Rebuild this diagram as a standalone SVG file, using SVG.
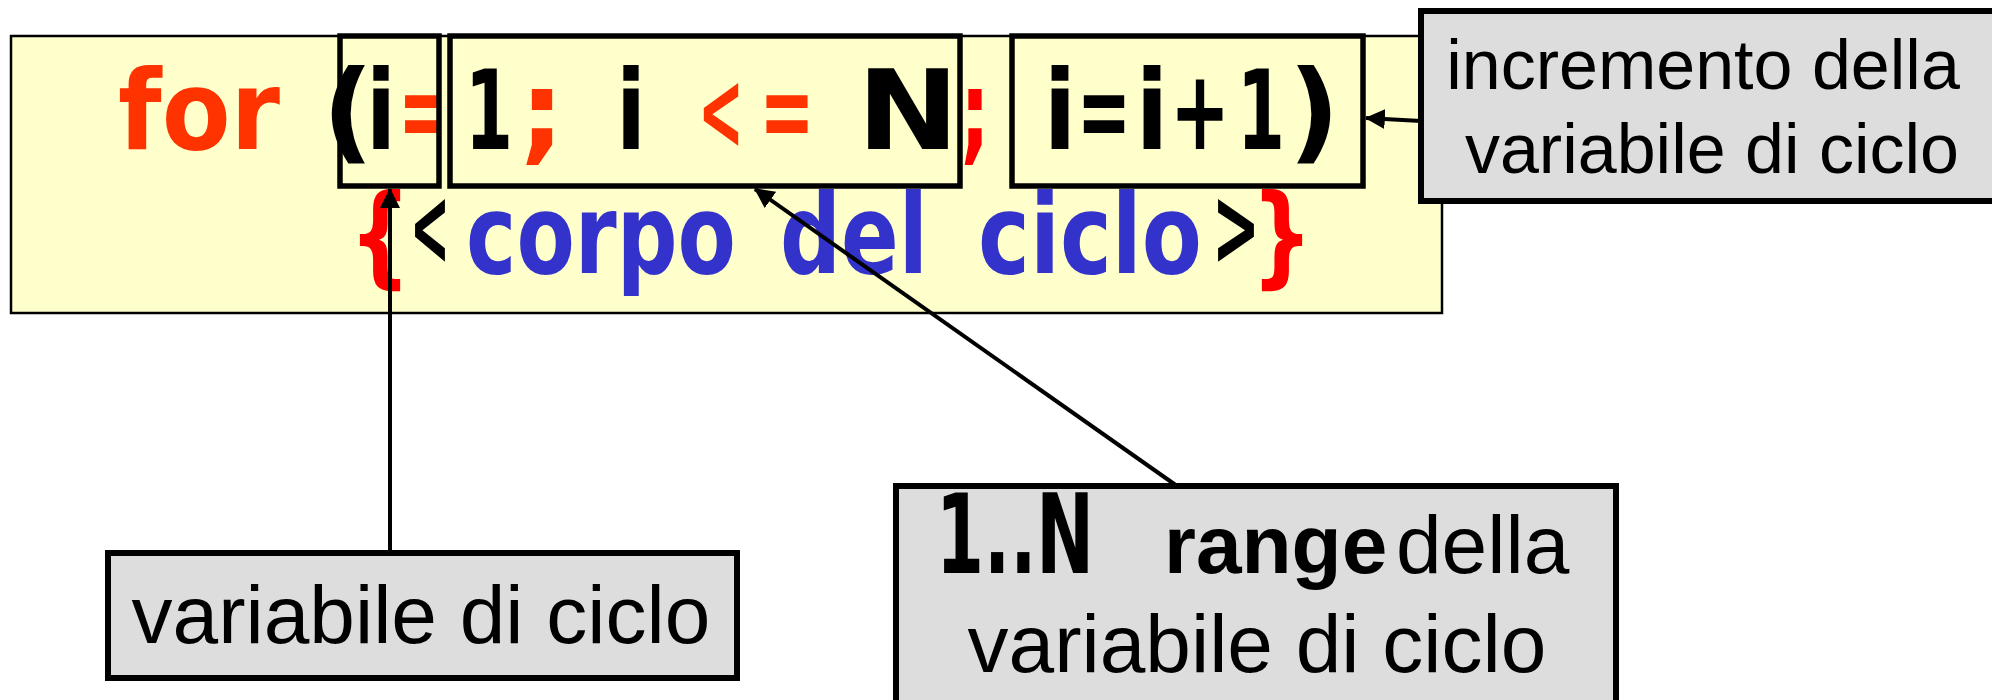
<svg xmlns="http://www.w3.org/2000/svg" width="1992" height="700" viewBox="0 0 1992 700">
<style>
.code{font-family:"DejaVu Sans",sans-serif;font-weight:bold;font-size:110px}
.m{text-anchor:middle}
.s{text-anchor:start}
.k{fill:#000}
.o{fill:#FF3300}
.r{fill:#FF0000}
.b{fill:#3333CC}
.hl{fill:none;stroke:#000;stroke-width:5.5}
.gray{fill:#DDDDDD;stroke:#000;stroke-width:6}
.lbl{font-family:"Liberation Sans",Arial,sans-serif;fill:#000}
.conn line{stroke:#000;stroke-width:4;marker-end:url(#ah)}
</style>
<defs>
<marker id="ah" markerUnits="userSpaceOnUse" markerWidth="20" markerHeight="20" viewBox="0 0 18 18" refX="17" refY="9" orient="auto">
<path d="M0,0 L18,9 L0,18 Z" fill="#000"/>
</marker>
</defs>
<rect width="1992" height="700" fill="#fff"/>
<g id="code">
<rect x="11" y="36" width="1431" height="277" fill="#FFFFCC" stroke="#000" stroke-width="2.5"/>
<text class="code o s" x="118" y="149" textLength="162" lengthAdjust="spacingAndGlyphs">for</text>
<text class="code k m" x="348" y="149" textLength="52" lengthAdjust="spacingAndGlyphs">(</text>
<text class="code k m" x="381" y="149" textLength="30" lengthAdjust="spacingAndGlyphs">i</text>
<text class="code o m" x="423" y="149" textLength="48" lengthAdjust="spacingAndGlyphs">=</text>
<text class="code k m" x="489" y="149" textLength="48" lengthAdjust="spacingAndGlyphs">1</text>
<text class="code o m" x="542" y="149" textLength="46" lengthAdjust="spacingAndGlyphs">;</text>
<text class="code k m" x="631" y="149" textLength="30" lengthAdjust="spacingAndGlyphs">i</text>
<text class="code o m" x="721" y="149" textLength="46" lengthAdjust="spacingAndGlyphs">&lt;</text>
<text class="code o m" x="787" y="149" textLength="55" lengthAdjust="spacingAndGlyphs">=</text>
<text class="code k m" x="908" y="149" textLength="102" lengthAdjust="spacingAndGlyphs">N</text>
<text class="code r m" x="975" y="149" textLength="30" lengthAdjust="spacingAndGlyphs">;</text>
<text class="code k m" x="1060" y="149" textLength="33" lengthAdjust="spacingAndGlyphs">i</text>
<text class="code k m" x="1104" y="149" textLength="54" lengthAdjust="spacingAndGlyphs">=</text>
<text class="code k m" x="1152" y="149" textLength="33" lengthAdjust="spacingAndGlyphs">i</text>
<text class="code k m" x="1200" y="149" textLength="60" lengthAdjust="spacingAndGlyphs">+</text>
<text class="code k m" x="1261" y="149" textLength="48" lengthAdjust="spacingAndGlyphs">1</text>
<text class="code k m" x="1314" y="149" textLength="52" lengthAdjust="spacingAndGlyphs">)</text>
<text class="code r m" x="380" y="273" textLength="62" lengthAdjust="spacingAndGlyphs">{</text>
<text class="code k m" x="430" y="265" font-size="72" textLength="40" lengthAdjust="spacingAndGlyphs">&lt;</text>
<text class="code b s" x="466" y="273" textLength="270" lengthAdjust="spacingAndGlyphs">corpo</text>
<text class="code b s" x="780" y="273" textLength="148" lengthAdjust="spacingAndGlyphs">del</text>
<text class="code b s" x="978" y="273" textLength="224" lengthAdjust="spacingAndGlyphs">ciclo</text>
<text class="code k m" x="1236" y="265" font-size="72" textLength="48" lengthAdjust="spacingAndGlyphs">&gt;</text>
<text class="code r m" x="1282" y="273" textLength="62" lengthAdjust="spacingAndGlyphs">}</text>
</g>
<g id="box-init"><rect class="hl" x="340" y="36" width="99" height="150"/></g>
<g id="box-range"><rect class="hl" x="450" y="36" width="510" height="150"/></g>
<g id="box-incr"><rect class="hl" x="1012" y="36" width="351" height="150"/></g>
<g id="note-incr">
<rect class="gray" x="1421" y="11" width="600" height="190"/>
<text class="lbl m" x="1703" y="89" font-size="70">incremento della</text>
<text class="lbl m" x="1712" y="173" font-size="70">variabile di ciclo</text>
</g>
<g id="note-var">
<rect class="gray" x="108" y="553" width="629" height="125"/>
<text class="lbl m" x="421" y="643" font-size="82">variabile di ciclo</text>
</g>
<g id="note-range">
<rect class="gray" x="896" y="486" width="720" height="260"/>
<text class="code k s" x="936" y="573" font-size="84" textLength="158" lengthAdjust="spacingAndGlyphs">1..N</text>
<text class="lbl s" x="1164" y="573" font-size="82" font-weight="bold">range</text>
<text class="lbl s" x="1396" y="573" font-size="82">della</text>
<text class="lbl m" x="1257" y="672" font-size="82">variabile di ciclo</text>
</g>
<g id="connectors" class="conn">
<line x1="390" y1="553" x2="390" y2="189"/>
<line x1="1177" y1="486" x2="755" y2="189"/>
<line x1="1421" y1="121" x2="1366" y2="118"/>
</g>
</svg>
